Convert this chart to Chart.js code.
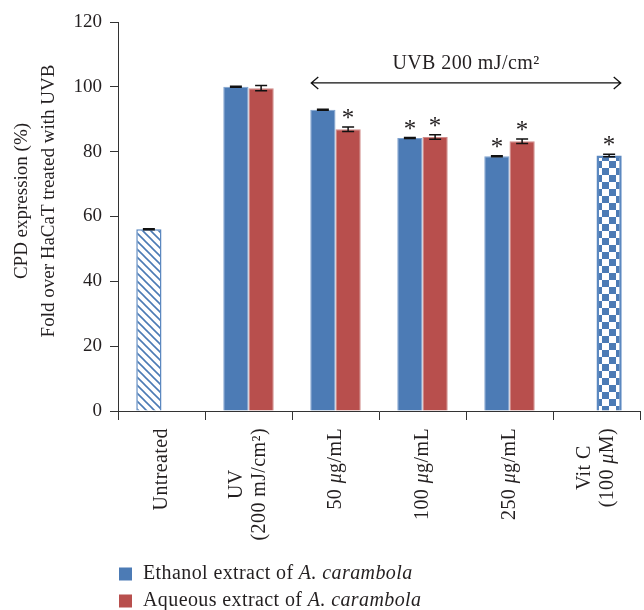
<!DOCTYPE html>
<html><head><meta charset="utf-8">
<script src="https://cdn.jsdelivr.net/npm/chart.js@4.4.1/dist/chart.umd.min.js"></script>
<style>html,body{margin:0;padding:0;background:#fff;}canvas{display:block;}</style>
</head><body>
<canvas id="c" width="644" height="610"></canvas>
<script>
// ---- data ----
const categories = [["Untreated"], ["UV", "(200 mJ/cm²)"], ["50 _μ_g/mL"], ["100 _μ_g/mL"], ["250 _μ_g/mL"], ["Vit C", "(100 _μ_M)"]];
const ethanolValues = [56.1, 100.0, 92.9, 84.2, 78.6, null];
const aqueousValues = [null, 99.6, 86.9, 84.5, 83.2, 78.8];
const ethanolErrors = [0.15, 0.15, 0.15, 0.15, 0.15, null];
const aqueousErrors = [null, 0.8, 0.7, 0.7, 0.7, 0.4];
const ethanolSignificant = [false, false, false, true, true, false];
const aqueousSignificant = [false, false, true, true, true, true];
const yTicks = [0, 20, 40, 60, 80, 100, 120];
const seriesNames = [["Ethanol extract of ", "_A. carambola_"], ["Aqueous extract of ", "_A. carambola_"]];
const yTitleLines = ["CPD expression (%)", "Fold over HaCaT treated with UVB"];
const bracketLabel = "UVB 200 mJ/cm²";
const bracketLevel = 101.2, bracketTextLevel = 107.2;

// ---- styles ----
const FONT = '"Liberation Serif", "DejaVu Serif", serif';
const FS = 19, LFS = 20;
const TXT = '#231f20';
const BLUE = '#4c7bb5', RED = '#b84f4d';

function makeHatch() {
  const c = document.createElement('canvas'); c.width = 8; c.height = 8;
  const g = c.getContext('2d');
  g.fillStyle = '#fff'; g.fillRect(0, 0, 8, 8);
  g.strokeStyle = BLUE; g.lineWidth = 1.6;
  g.beginPath();
  g.moveTo(-1, -1); g.lineTo(9, 9);
  g.moveTo(-3, 5); g.lineTo(3, 11);
  g.moveTo(5, -3); g.lineTo(11, 3);
  g.stroke();
  return g.createPattern(c, 'repeat');
}
function makeChecker() {
  const s = 7;
  const c = document.createElement('canvas'); c.width = 2 * s; c.height = 2 * s;
  const g = c.getContext('2d');
  g.fillStyle = '#fff'; g.fillRect(0, 0, 2 * s, 2 * s);
  g.fillStyle = BLUE; g.fillRect(0, 0, s, s); g.fillRect(s, s, s, s);
  return g.createPattern(c, 'repeat');
}
const hatch = makeHatch(), checker = makeChecker();

function richSegments(parts) {
  const segs = [];
  parts.forEach(p => {
    p.split('_').forEach((t, i) => { if (t) segs.push({ t, it: i % 2 === 1 }); });
  });
  return segs;
}
function fontFor(it, size) { return (it ? 'italic ' : '') + size + 'px ' + FONT; }
function richWidth(ctx, segs, size) {
  let w = 0;
  segs.forEach(s => { ctx.font = fontFor(s.it, size); w += ctx.measureText(s.t).width; });
  return w;
}
function drawRich(ctx, segs, x, y, size, align) {
  const w = richWidth(ctx, segs, size);
  let cx = align === 'center' ? x - w / 2 : (align === 'right' ? x - w : x);
  ctx.textAlign = 'left';
  segs.forEach(s => {
    ctx.font = fontFor(s.it, size);
    ctx.fillText(s.t, cx, y);
    cx += ctx.measureText(s.t).width;
  });
}

const overlay = {
  id: 'overlay',
  afterDraw(chart) {
    const ctx = chart.ctx, xs = chart.scales.x, ys = chart.scales.y;
    ctx.save();
    ctx.fillStyle = TXT; ctx.strokeStyle = '#111';
    // error bars and significance marks
    const errs = [ethanolErrors, aqueousErrors];
    const vals = [ethanolValues, aqueousValues];
    const sigs = [ethanolSignificant, aqueousSignificant];
    for (let d = 0; d < 2; d++) {
      const meta = chart.getDatasetMeta(d);
      meta.data.forEach((el, j) => {
        const v = vals[d][j]; if (v == null) return;
        const e = errs[d][j] || 0;
        const yt = ys.getPixelForValue(v + e), yb = ys.getPixelForValue(v - e);
        ctx.lineWidth = 1.5;
        ctx.beginPath();
        ctx.moveTo(el.x, yt); ctx.lineTo(el.x, yb);
        ctx.moveTo(el.x - 6, yt); ctx.lineTo(el.x + 6, yt);
        ctx.moveTo(el.x - 6, yb); ctx.lineTo(el.x + 6, yb);
        ctx.stroke();
        if (sigs[d][j]) {
          const top = Math.min(yt, ys.getPixelForValue(v));
          ctx.font = '25px ' + FONT; ctx.textAlign = 'center'; ctx.textBaseline = 'alphabetic';
          ctx.fillText('*', el.x, top - 1);
        }
      });
    }
    ctx.letterSpacing = '0.4px';
    // x category labels (rotated, lines centred on one another)
    const labelTop = ys.bottom + 17, lh = 23;
    ctx.textBaseline = 'middle';
    categories.forEach((lines, i) => {
      const px = xs.getPixelForValue(i);
      const segLines = lines.map(l => richSegments([l]));
      const maxW = Math.max(...segLines.map(s => richWidth(ctx, s, LFS)));
      ctx.save();
      ctx.translate(px, labelTop);
      ctx.rotate(-Math.PI / 2);
      segLines.forEach((s, k) => {
        const off = (k - (segLines.length - 1) / 2) * lh;
        drawRich(ctx, s, -maxW / 2, off, LFS, 'center');
      });
      ctx.restore();
    });
    // bracket arrow
    const m2 = chart.getDatasetMeta(0).data[2], m5 = chart.getDatasetMeta(1).data[5];
    const x1 = m2.x - m2.width / 2 + 1, x2 = m5.x + m5.width / 2 - 1;
    const ya = ys.getPixelForValue(bracketLevel);
    ctx.lineWidth = 1.3; ctx.strokeStyle = '#111';
    ctx.beginPath();
    ctx.moveTo(x1, ya); ctx.lineTo(x2, ya);
    ctx.moveTo(x1 + 7, ya - 6); ctx.lineTo(x1, ya); ctx.lineTo(x1 + 7, ya + 6);
    ctx.moveTo(x2 - 7, ya - 6); ctx.lineTo(x2, ya); ctx.lineTo(x2 - 7, ya + 6);
    ctx.stroke();
    ctx.textBaseline = 'middle';
    drawRich(ctx, richSegments([bracketLabel]), (x1 + x2) / 2, ys.getPixelForValue(bracketTextLevel), LFS, 'center');
    // legend
    const lcolors = [BLUE, RED];
    seriesNames.forEach((parts, k) => {
      const cy = 574 + k * 27;
      ctx.fillStyle = lcolors[k];
      ctx.fillRect(119, cy - 6.5, 13, 13);
      ctx.fillStyle = TXT; ctx.textBaseline = 'middle';
      drawRich(ctx, richSegments(parts), 143, cy, LFS, 'left');
    });
    ctx.letterSpacing = '0px';
    // y title
    ctx.save();
    ctx.translate(22, 201);
    ctx.rotate(-Math.PI / 2);
    ctx.font = FS + 'px ' + FONT; ctx.textAlign = 'center'; ctx.textBaseline = 'middle';
    yTitleLines.forEach((t, k) => ctx.fillText(t, 0, k * 27));
    ctx.restore();
    ctx.restore();
  }
};

new Chart(document.getElementById('c'), {
  type: 'bar',
  data: {
    labels: categories,
    datasets: [
      {
        label: 'Ethanol', data: ethanolValues,
        backgroundColor: ethanolValues.map((v, i) => i === 0 ? hatch : BLUE),
        borderColor: ethanolValues.map((v, i) => i === 0 ? '#5b88c0' : '#7ea2cf'),
        borderWidth: ethanolValues.map((v, i) => i === 0 ? 1.5 : 1),
        categoryPercentage: 0.58, barPercentage: 1.0
      },
      {
        label: 'Aqueous', data: aqueousValues,
        backgroundColor: aqueousValues.map((v, i) => i === 5 ? checker : RED),
        borderColor: aqueousValues.map((v, i) => i === 5 ? '#5b88c0' : '#d08a88'),
        borderWidth: aqueousValues.map((v, i) => i === 5 ? 2.5 : 1),
        categoryPercentage: 0.58, barPercentage: 1.0
      }
    ]
  },
  options: {
    responsive: false, animation: false, devicePixelRatio: 1,
    layout: { padding: { top: 22, left: 0, right: 4, bottom: 0 } },
    plugins: { legend: { display: false }, tooltip: { enabled: false } },
    scales: {
      x: {
        grid: { offset: true, drawOnChartArea: false, tickLength: 9, color: '#333', lineWidth: 1 },
        border: { color: '#333', width: 1 },
        ticks: { display: false },
        afterFit(s) { s.height = 199; }
      },
      y: {
        min: 0, max: 120,
        afterBuildTicks(s) { s.ticks = yTicks.map(v => ({ value: v })); },
        ticks: { font: { family: FONT, size: FS }, color: TXT, padding: 8 },
        grid: { drawOnChartArea: false, tickLength: 8, color: '#333', lineWidth: 1 },
        border: { color: '#333', width: 1 },
        afterFit(s) { s.width = 118; }
      }
    }
  },
  plugins: [overlay]
});
</script>
</body></html>
